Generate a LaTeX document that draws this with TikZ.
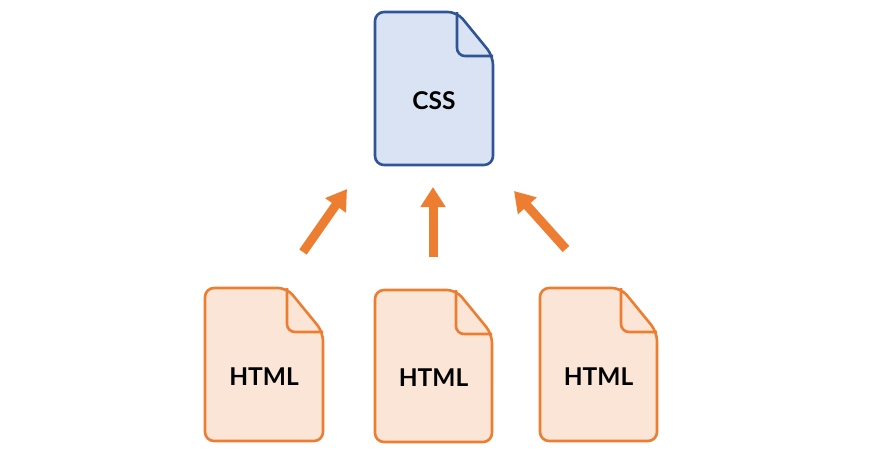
\documentclass[tikz,border=0pt]{standalone}
\usepackage{fontspec}
\setmainfont{Lato}
\usetikzlibrary{arrows.meta}
\definecolor{orangeline}{HTML}{ED7D31}
\definecolor{orangefill}{HTML}{FBE5D6}
\definecolor{blueline}{HTML}{2F5597}
\definecolor{bluefill}{HTML}{DAE3F3}
\tikzset{
  htmldoc/.style={draw=orangeline, fill=orangefill, line width=2.6pt},
  cssdoc/.style={draw=blueline, fill=bluefill, line width=2.6pt},
  doclabel/.style={font=\fontsize{24.5}{28}\selectfont\bfseries},
  push/.style={orangeline, line width=9pt, -{Triangle[length=20pt,width=24pt]}}
}
% #1 style, #2 name, #3 left, #4 top, #5 width, #6 height, #7 text
\newcommand\docfile[7]{
  \draw[#1, rounded corners=9pt] (#3,#4) -- (#3+#5-36,#4) -- (#3+#5,#4+44)
    -- (#3+#5,#4+#6) -- (#3,#4+#6) -- cycle;
  \draw[#1, fill=none, rounded corners=8pt] (#3+#5-36,#4) -- (#3+#5-36,#4+44) -- (#3+#5,#4+44);
  \node[doclabel] (#2) at (#3+#5/2,#4+#6/2+12) {#7};
}
\begin{document}
\begin{tikzpicture}[x=1pt, y=-1pt]
  \useasboundingbox (0,0) rectangle (869,451);
  \docfile{cssdoc}{css}{375}{12}{118}{153}{CSS}
  \docfile{htmldoc}{left}{205}{288}{118}{153}{HTML}
  \docfile{htmldoc}{mid}{375}{290}{117}{152}{HTML}
  \docfile{htmldoc}{right}{540}{288}{117}{153}{HTML}
  \coordinate (lfrom) at (303,252);
  \coordinate (lto) at (347,189);
  \coordinate (mfrom) at (433,257);
  \coordinate (mto) at (433,187);
  \coordinate (rfrom) at (566,249);
  \coordinate (rto) at (514,191);
  \draw[push] (lfrom) -- (lto);
  \draw[push] (mfrom) -- (mto);
  \draw[push] (rfrom) -- (rto);
\end{tikzpicture}
\end{document}
